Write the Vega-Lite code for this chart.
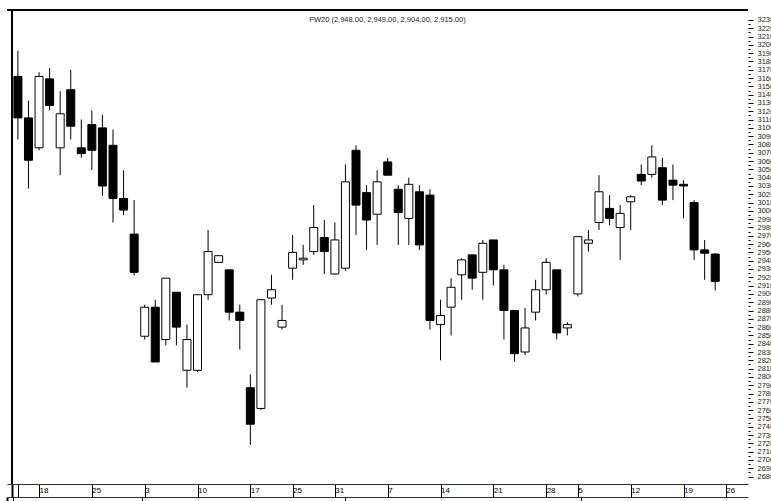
{
  "$schema": "https://vega.github.io/schema/vega-lite/v6.json",
  "width": 741,
  "height": 474,
  "autosize": "none",
  "padding": {"left": 7, "top": 10, "right": 23, "bottom": 17},
  "background": "white",
  "config": {"view": {"stroke": null}, "font": "Liberation Sans"},
  "title": {"text": "FW20 (2,948.00, 2,949.00, 2,904.00, 2,915.00)", "fontSize": 7.5, "font": "Liberation Sans", "fontWeight": "normal", "color": "#222", "anchor": "middle", "baseline": "top", "offset": -14, "dx": 10},
  "datasets": {
    "ohlc": [
      {"i":0,"o":3162,"h":3193,"l":3086,"c":3112},
      {"i":1,"o":3112,"h":3133,"l":3027,"c":3061},
      {"i":2,"o":3076,"h":3167,"l":3073,"c":3162},
      {"i":3,"o":3159,"h":3172,"l":3121,"c":3127},
      {"i":4,"o":3076,"h":3144,"l":3043,"c":3117},
      {"i":5,"o":3146,"h":3170,"l":3086,"c":3102},
      {"i":6,"o":3076,"h":3110,"l":3064,"c":3069},
      {"i":7,"o":3104,"h":3121,"l":3049,"c":3073},
      {"i":8,"o":3100,"h":3116,"l":3018,"c":3030},
      {"i":9,"o":3079,"h":3098,"l":2986,"c":3015},
      {"i":10,"o":3015,"h":3049,"l":2995,"c":3001},
      {"i":11,"o":2972,"h":3013,"l":2922,"c":2926},
      {"i":12,"o":2849,"h":2887,"l":2845,"c":2884},
      {"i":13,"o":2884,"h":2893,"l":2818,"c":2818},
      {"i":14,"o":2845,"h":2919,"l":2838,"c":2919},
      {"i":15,"o":2902,"h":2902,"l":2838,"c":2860},
      {"i":16,"o":2808,"h":2863,"l":2787,"c":2845},
      {"i":17,"o":2808,"h":2899,"l":2806,"c":2899},
      {"i":18,"o":2899,"h":2977,"l":2893,"c":2951},
      {"i":19,"o":2938,"h":2947,"l":2938,"c":2946},
      {"i":20,"o":2929,"h":2929,"l":2868,"c":2878},
      {"i":21,"o":2878,"h":2887,"l":2833,"c":2868},
      {"i":22,"o":2787,"h":2803,"l":2718,"c":2743},
      {"i":23,"o":2762,"h":2893,"l":2760,"c":2893},
      {"i":24,"o":2895,"h":2923,"l":2887,"c":2905},
      {"i":25,"o":2860,"h":2887,"l":2857,"c":2868},
      {"i":26,"o":2931,"h":2971,"l":2917,"c":2950},
      {"i":27,"o":2941,"h":2959,"l":2935,"c":2943},
      {"i":28,"o":2951,"h":3007,"l":2947,"c":2980},
      {"i":29,"o":2968,"h":2989,"l":2924,"c":2951},
      {"i":30,"o":2924,"h":2986,"l":2923,"c":2965},
      {"i":31,"o":2931,"h":3056,"l":2928,"c":3035},
      {"i":32,"o":3073,"h":3079,"l":2971,"c":3007},
      {"i":33,"o":3022,"h":3031,"l":2953,"c":2989},
      {"i":34,"o":2996,"h":3049,"l":2959,"c":3035},
      {"i":35,"o":3059,"h":3064,"l":3043,"c":3043},
      {"i":36,"o":3026,"h":3031,"l":2959,"c":2998},
      {"i":37,"o":2991,"h":3040,"l":2959,"c":3032},
      {"i":38,"o":3023,"h":3031,"l":2953,"c":2959},
      {"i":39,"o":3019,"h":3026,"l":2857,"c":2868},
      {"i":40,"o":2863,"h":2893,"l":2820,"c":2874},
      {"i":41,"o":2884,"h":2919,"l":2850,"c":2908},
      {"i":42,"o":2923,"h":2943,"l":2893,"c":2941},
      {"i":43,"o":2947,"h":2947,"l":2905,"c":2919},
      {"i":44,"o":2926,"h":2965,"l":2893,"c":2961},
      {"i":45,"o":2965,"h":2965,"l":2910,"c":2929},
      {"i":46,"o":2929,"h":2935,"l":2845,"c":2880},
      {"i":47,"o":2880,"h":2880,"l":2818,"c":2828},
      {"i":48,"o":2830,"h":2883,"l":2826,"c":2859},
      {"i":49,"o":2878,"h":2917,"l":2868,"c":2905},
      {"i":50,"o":2905,"h":2943,"l":2899,"c":2938},
      {"i":51,"o":2929,"h":2929,"l":2845,"c":2853},
      {"i":52,"o":2859,"h":2866,"l":2850,"c":2863},
      {"i":53,"o":2900,"h":2969,"l":2897,"c":2969},
      {"i":54,"o":2961,"h":2977,"l":2951,"c":2965},
      {"i":55,"o":2986,"h":3043,"l":2977,"c":3023},
      {"i":56,"o":3003,"h":3019,"l":2983,"c":2991},
      {"i":57,"o":2980,"h":3007,"l":2941,"c":2997},
      {"i":58,"o":3011,"h":3019,"l":2977,"c":3017},
      {"i":59,"o":3044,"h":3056,"l":3031,"c":3036},
      {"i":60,"o":3044,"h":3079,"l":3040,"c":3065},
      {"i":61,"o":3052,"h":3064,"l":3007,"c":3013},
      {"i":62,"o":3037,"h":3056,"l":3013,"c":3031},
      {"i":63,"o":3032,"h":3037,"l":2991,"c":3030},
      {"i":64,"o":3010,"h":3013,"l":2941,"c":2953},
      {"i":65,"o":2953,"h":2965,"l":2917,"c":2949},
      {"i":66,"o":2948,"h":2949,"l":2904,"c":2915}
    ],
    "months": [{"i":0},{"i":12},{"i":31},{"i":53}]
  },
  "layer": [
    {
      "data": {"name": "ohlc"},
      "layer": [
        {
          "mark": {"type": "rule", "color": "black", "strokeWidth": 1},
          "encoding": {
            "x": {"field": "i", "type": "quantitative",
              "scale": {"domain": [-0.56, 68.63], "nice": false, "zero": false},
              "axis": {
                "orient": "bottom", "title": null, "grid": false, "tickCount": 200,
                "values": [-0.56, 0, 2, 7, 12, 17, 22, 26, 30, 35, 40, 45, 50, 53, 58, 63, 67],
                "labelExpr": "datum.value==2?'18':datum.value==7?'25':datum.value==12?'3':datum.value==17?'10':datum.value==22?'17':datum.value==26?'25':datum.value==30?'31':datum.value==35?'7':datum.value==40?'14':datum.value==45?'21':datum.value==50?'28':datum.value==53?'5':datum.value==58?'12':datum.value==63?'19':datum.value==67?'26':''",
                "tickSize": 13, "tickColor": "#000",
                "tickWidth": {"condition": {"test": "datum.value < 0", "value": 2}, "value": 1},
                "domainColor": "#333", "domainWidth": 1,
                "labelAlign": "left", "labelBaseline": "top", "labelPadding": -11, "labelDx": 3,
                "labelFontSize": 8, "labelColor": "#000", "labelFont": "Liberation Sans",
                "labelOverlap": false, "labelBound": false, "labelFlush": false
              }
            },
            "y": {"field": "l", "type": "quantitative",
              "scale": {"domain": [2671, 3242], "nice": false, "zero": false},
              "axis": {
                "orient": "right", "title": null, "grid": false, "domain": false, "tickCount": 500,
                "values": [2680,2685,2690,2695,2700,2705,2710,2715,2720,2725,2730,2735,2740,2745,2750,2755,2760,2765,2770,2775,2780,2785,2790,2795,2800,2805,2810,2815,2820,2825,2830,2835,2840,2845,2850,2855,2860,2865,2870,2875,2880,2885,2890,2895,2900,2905,2910,2915,2920,2925,2930,2935,2940,2945,2950,2955,2960,2965,2970,2975,2980,2985,2990,2995,3000,3005,3010,3015,3020,3025,3030,3035,3040,3045,3050,3055,3060,3065,3070,3075,3080,3085,3090,3095,3100,3105,3110,3115,3120,3125,3130,3135,3140,3145,3150,3155,3160,3165,3170,3175,3180,3185,3190,3195,3200,3205,3210,3215,3220,3225,3230],
                "labelExpr": "datum.value % 10 === 0 ? '' + datum.value : ''",
                "tickColor": "#000",
                "tickSize": {"condition": {"test": "datum.value % 10 === 0", "value": 5}, "value": 2},
                "labelPadding": 4, "labelFontSize": 7.5, "labelColor": "#222", "labelFont": "Liberation Sans",
                "labelOverlap": false, "labelBound": false, "labelFlush": false
              }
            },
            "y2": {"field": "h"}
          }
        },
        {
          "mark": {"type": "bar", "size": 8, "stroke": "black", "strokeWidth": 1},
          "encoding": {
            "x": {"field": "i", "type": "quantitative"},
            "y": {"field": "o", "type": "quantitative"},
            "y2": {"field": "c"},
            "fill": {"condition": {"test": "datum.c < datum.o", "value": "black"}, "value": "white"}
          }
        },
        {
          "mark": {"type": "rule", "color": "black", "strokeWidth": 2},
          "encoding": {"y": {"datum": 3242}}
        },
        {
          "mark": {"type": "rule", "color": "black", "strokeWidth": 2},
          "encoding": {"x": {"datum": -0.56}}
        }
      ]
    },
    {
      "data": {"name": "months"},
      "mark": {"type": "rule", "opacity": 0},
      "encoding": {
        "x": {"field": "i", "type": "quantitative",
          "scale": {"domain": [-0.56, 68.63], "nice": false, "zero": false},
          "axis": {
            "orient": "bottom", "offset": 13, "title": null, "grid": false, "tickCount": 50,
            "values": [-0.56, 0, 12, 31, 53],
            "labelExpr": "datum.value==0?'February':datum.value==12?'March':datum.value==31?'April':datum.value==53?'May':''",
            "tickSize": 8, "tickColor": "#000",
            "tickWidth": {"condition": {"test": "datum.value < 0", "value": 2}, "value": 1},
            "domainColor": "#333", "domainWidth": 1,
            "labelAlign": "left", "labelBaseline": "top", "labelPadding": -6, "labelDx": 3,
            "labelFontSize": 8, "labelColor": "#000", "labelFont": "Liberation Sans",
            "labelOverlap": false, "labelBound": false, "labelFlush": false
          }
        }
      }
    }
  ],
  "resolve": {"scale": {"x": "independent"}, "axis": {"x": "independent"}}
}
